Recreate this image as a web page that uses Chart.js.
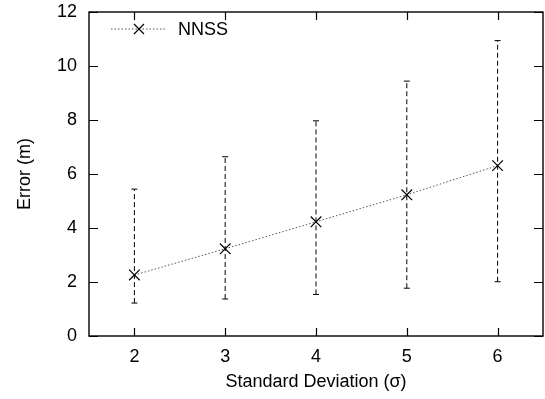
<!DOCTYPE html>
<html>
<head>
<meta charset="utf-8">
<script src="https://cdn.jsdelivr.net/npm/chart.js@4/dist/chart.umd.min.js"></script>
<style>
  body { margin: 0; background: #fff; }
  canvas { display: block; }
</style>
</head>
<body>
<canvas id="errChart" width="545" height="399"></canvas>
<script>
// values
var sigmas = [2, 3, 4, 5, 6];
var meanErr = [2.26, 3.23, 4.23, 5.23, 6.31];
var lowErr = [1.22, 1.37, 1.54, 1.77, 2.01];
var highErr = [5.44, 6.64, 7.97, 9.44, 10.94];
var yTicks = [0, 2, 4, 6, 8, 10, 12];
var seriesName = 'NNSS';

var FONT = '"Liberation Sans", Arial, Helvetica, sans-serif';
var FSIZE = 18;

// one small dataset per error bar
var barSets = sigmas.map(function (s, i) {
    return {
        type: 'line',
        data: [{x: s, y: lowErr[i]}, {x: s, y: highErr[i]}],
        borderColor: '#000',
        borderWidth: 1,
        borderDash: [5, 3],
        pointStyle: 'line',
        pointRadius: 3,
        pointBorderColor: '#000',
        pointBorderWidth: 1
    };
});

var meanSet = {
    type: 'line',
    label: seriesName,
    data: sigmas.map(function (s, i) { return {x: s, y: meanErr[i]}; }),
    borderColor: '#555',
    borderWidth: 1,
    borderDash: [1.5, 2],
    pointStyle: 'crossRot',
    pointRadius: 7.5,
    pointBorderColor: '#000',
    pointBorderWidth: 1.2
};

// gnuplot style frame, inward ticks and the key
var framePlugin = {
    id: 'frame',
    afterDatasetsDraw: function (chart) {
        var ctx = chart.ctx, a = chart.chartArea;
        var xs = chart.scales.x, ys = chart.scales.y;
        ctx.save();
        ctx.strokeStyle = '#000';
        ctx.lineWidth = 1.4;
        ctx.setLineDash([]);
        ctx.strokeRect(a.left, a.top, a.right - a.left, a.bottom - a.top);
        ctx.lineWidth = 1.2;
        ctx.beginPath();
        sigmas.forEach(function (s) {
            var px = Math.round(xs.getPixelForValue(s)) + 0.5;
            ctx.moveTo(px, a.bottom); ctx.lineTo(px, a.bottom - 8);
            ctx.moveTo(px, a.top); ctx.lineTo(px, a.top + 8);
        });
        yTicks.forEach(function (v) {
            var py = Math.round(ys.getPixelForValue(v)) + 0.5;
            ctx.moveTo(a.left, py); ctx.lineTo(a.left + 9, py);
            ctx.moveTo(a.right, py); ctx.lineTo(a.right - 9, py);
        });
        ctx.stroke();

        // key
        var ky = 29;
        ctx.strokeStyle = '#555';
        ctx.lineWidth = 1;
        ctx.setLineDash([1.5, 2]);
        ctx.beginPath();
        ctx.moveTo(111, ky); ctx.lineTo(165, ky);
        ctx.stroke();
        ctx.setLineDash([]);
        ctx.strokeStyle = '#000';
        ctx.lineWidth = 1.2;
        ctx.beginPath();
        ctx.moveTo(134, ky - 5); ctx.lineTo(144, ky + 5);
        ctx.moveTo(134, ky + 5); ctx.lineTo(144, ky - 5);
        ctx.stroke();
        ctx.fillStyle = '#000';
        ctx.font = FSIZE + 'px ' + FONT;
        ctx.textBaseline = 'middle';
        ctx.textAlign = 'left';
        ctx.fillText(seriesName, 178, ky + 1);
        ctx.restore();
    }
};

var ctxE = document.getElementById('errChart').getContext('2d');
window.errChart = new Chart(ctxE, {
    type: 'line',
    data: { datasets: barSets.concat([meanSet]) },
    options: {
        responsive: false,
        animation: false,
        layout: { autoPadding: false, padding: { left: 0, right: 2, top: 12, bottom: 0 } },
        plugins: {
            legend: { display: false },
            tooltip: { enabled: false }
        },
        scales: {
            x: {
                type: 'linear',
                min: 1.5,
                max: 6.5,
                afterBuildTicks: function (scale) {
                    scale.ticks = sigmas.map(function (v) { return {value: v}; });
                },
                afterFit: function (scale) {
                    scale.height = 63;
                    scale.paddingLeft = 0;
                    scale.paddingRight = 0;
                },
                grid: { display: false, drawTicks: false },
                border: { display: false },
                ticks: { color: '#000', padding: 10, font: { family: FONT, size: FSIZE } },
                title: {
                    display: true,
                    text: 'Standard Deviation (σ)',
                    color: '#000',
                    font: { family: FONT, size: FSIZE },
                    padding: { top: 6, bottom: 6 }
                }
            },
            y: {
                type: 'linear',
                min: 0,
                max: 12,
                afterBuildTicks: function (scale) {
                    scale.ticks = yTicks.map(function (v) { return {value: v}; });
                },
                afterFit: function (scale) {
                    scale.width = 89;
                    scale.paddingTop = 0;
                    scale.paddingBottom = 0;
                },
                grid: { display: false, drawTicks: false },
                border: { display: false },
                ticks: { color: '#000', padding: 12, font: { family: FONT, size: FSIZE } },
                title: {
                    display: true,
                    text: 'Error (m)',
                    color: '#000',
                    font: { family: FONT, size: FSIZE },
                    padding: { top: 14, bottom: 14 }
                }
            }
        }
    },
    plugins: [framePlugin]
});
</script>
</body>
</html>
